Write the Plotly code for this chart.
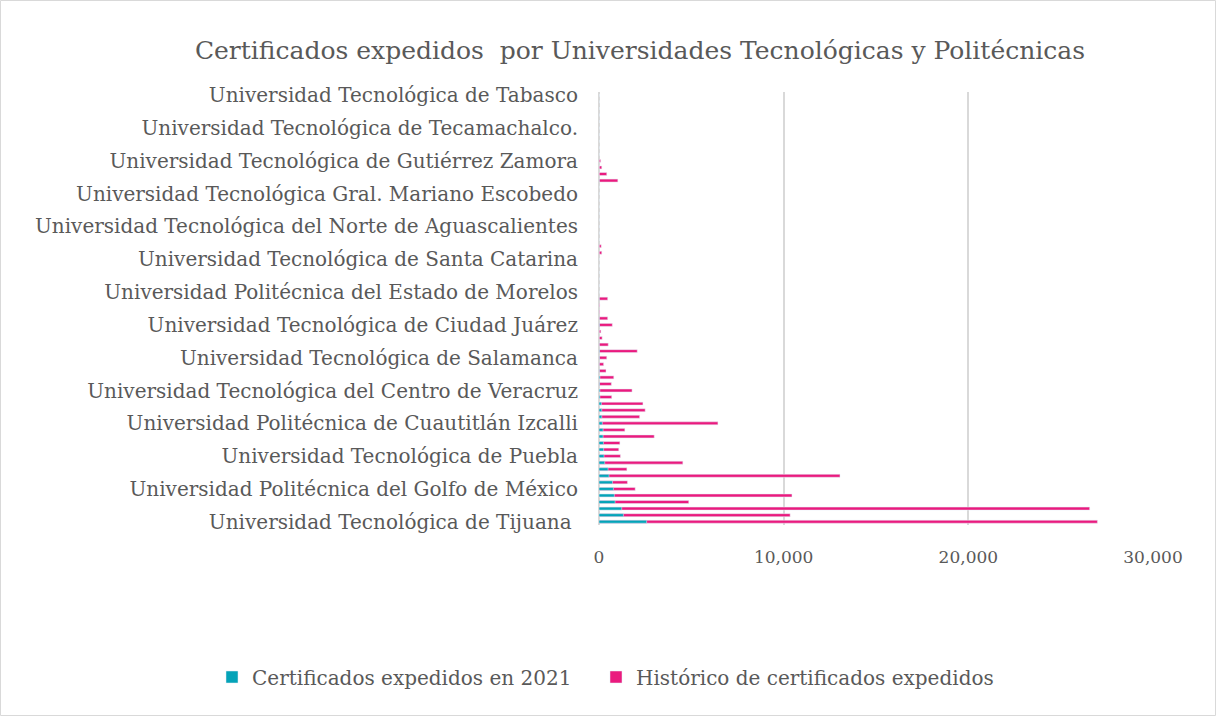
import plotly.graph_objects as go

# Categories from bottom (index 0) to top (index 65); only every 5th label is displayed
universidades = [
    "Universidad Tecnológica de Tijuana\u00a0",
    "Universidad Tecnológica de Querétaro",
    "Universidad Politécnica de San Luis Potosí",
    "Universidad Tecnológica de León",
    "Universidad Tecnológica de Hermosillo",
    "Universidad Politécnica del Golfo de México",
    "Universidad Tecnológica de Aguascalientes",
    "Universidad Tecnológica de Coahuila",
    "Universidad Tecnológica de Jalisco",
    "Universidad Politécnica de Pachuca",
    "Universidad Tecnológica de Puebla",
    "Universidad Tecnológica de Tula-Tepeji",
    "Universidad Tecnológica de Nezahualcóyotl",
    "Universidad Tecnológica de Chihuahua",
    "Universidad Politécnica de Tulancingo",
    "Universidad Politécnica de Cuautitlán Izcalli",
    "Universidad Tecnológica de Cancún",
    "Universidad Tecnológica de San Juan del Río",
    "Universidad Tecnológica del Valle del Mezquital",
    "Universidad Politécnica de Aguascalientes",
    "Universidad Tecnológica del Centro de Veracruz",
    "Universidad Tecnológica de Tecámac",
    "Universidad Tecnológica de la Mixteca",
    "Universidad Tecnológica de Torreón",
    "Universidad Politécnica de Zacatecas",
    "Universidad Tecnológica de Salamanca",
    "Universidad Tecnológica de Durango",
    "Universidad Tecnológica de Campeche",
    "Universidad Tecnológica de Xicotepec de Juárez",
    "Universidad Politécnica de Sinaloa",
    "Universidad Tecnológica de Ciudad Juárez",
    "Universidad Tecnológica de Morelia",
    "Universidad Tecnológica de Izúcar de Matamoros",
    "Universidad Tecnológica de Nayarit",
    "Universidad Politécnica de Tlaxcala",
    "Universidad Politécnica del Estado de Morelos",
    "Universidad Tecnológica de Huejotzingo",
    "Universidad Tecnológica de Escuinapa",
    "Universidad Tecnológica de Tlaxcala",
    "Universidad Politécnica de Chiapas",
    "Universidad Tecnológica de Santa Catarina",
    "Universidad Tecnológica de Zacatecas",
    "Universidad Tecnológica de la Sierra Hidalguense",
    "Universidad Tecnológica de Manzanillo",
    "Universidad Politécnica de Quintana Roo",
    "Universidad Tecnológica del Norte de Aguascalientes",
    "Universidad Tecnológica de Parral",
    "Universidad Tecnológica de Candelaria",
    "Universidad Tecnológica de la Costa",
    "Universidad Politécnica de Durango",
    "Universidad Tecnológica Gral. Mariano Escobedo",
    "Universidad Tecnológica de Altamira",
    "Universidad Tecnológica de Matamoros",
    "Universidad Tecnológica de la Huasteca Hidalguense",
    "Universidad Politécnica de Victoria",
    "Universidad Tecnológica de Gutiérrez Zamora",
    "Universidad Tecnológica de Calvillo",
    "Universidad Tecnológica de Oriental",
    "Universidad Tecnológica de Chetumal",
    "Universidad Politécnica de Tapachula",
    "Universidad Tecnológica de Tecamachalco.",
    "Universidad Tecnológica de Zinacantepec",
    "Universidad Tecnológica de Tehuacán",
    "Universidad Tecnológica de Acapulco",
    "Universidad Politécnica de Atlacomulco",
    "Universidad Tecnológica de Tabasco",
]

certificados_2021 = [
    2580, 1320, 1230, 870, 830, 780, 730, 540, 490, 310,
    270, 250, 240, 220, 220, 180, 150, 150, 130, 50,
    50, 30, 50, 20, 10, 20, 30, 10, 0, 0,
    20, 10, 0, 0, 10, 0, 0, 0, 0, 0,
    0, 0, 0, 0, 0, 0, 0, 0, 0, 0,
    0, 0, 10, 0, 0, 0, 0, 0, 0, 0,
    0, 0, 0, 0, 0, 0,
]

historico = [
    26990, 10350, 26570, 4860, 10450, 1960, 1540, 13050, 1510, 4540,
    1160, 1070, 1130, 2990, 1400, 6440, 2200, 2500, 2380, 690,
    1790, 670, 800, 380, 250, 420, 2070, 500, 170, 100,
    720, 470, 40, 40, 470, 0, 0, 0, 0, 0,
    0, 150, 120, 0, 0, 0, 0, 0, 0, 0,
    0, 0, 1020, 420, 150, 90, 0, 0, 0, 0,
    0, 0, 0, 0, 0, 0,
]

etiquetas_visibles = universidades[::5]

TEAL = "#04A3B8"
PINK = "#EA1A7E"
GRAY = "#595959"
FONT = "DejaVu Serif"

fig = go.Figure()
fig.add_trace(go.Bar(
    y=universidades, x=historico, orientation="h",
    name="Histórico de certificados expedidos", marker_color=PINK,
    legend="legend2",
))
fig.add_trace(go.Bar(
    y=universidades, x=certificados_2021, orientation="h",
    name="Certificados expedidos en 2021", marker_color=TEAL,
    legend="legend",
))

legend_common = dict(
    orientation="h", xref="paper", xanchor="left",
    yref="paper", y=(525 - 677) / 433, yanchor="middle",
    font=dict(size=20, color=GRAY), itemwidth=30,
    bgcolor="rgba(0,0,0,0)",
)

fig.update_layout(
    width=1216, height=716,
    barmode="overlay", bargap=0.55,
    paper_bgcolor="white", plot_bgcolor="white",
    margin=dict(l=599, r=63, t=92, b=191),
    font=dict(family=FONT, color=GRAY, size=20),
    title=dict(
        text="Certificados expedidos  por Universidades Tecnológicas y Politécnicas",
        x=640 / 1216, xanchor="center", xref="container",
        y=1 - 50 / 716, yanchor="middle", yref="container",
        font=dict(family=FONT, size=25, color=GRAY),
    ),
    xaxis=dict(
        range=[0, 30000], dtick=10000, tickformat=",",
        showgrid=True, gridcolor="#D9D9D9", gridwidth=2,
        zeroline=True, zerolinecolor="#D9D9D9", zerolinewidth=2,
        showline=False, ticks="", tickfont=dict(size=17, color=GRAY),
        ticklabelstandoff=20,
    ),
    yaxis=dict(
        type="category", categoryorder="array", categoryarray=universidades,
        tickmode="array", tickvals=etiquetas_visibles, ticktext=etiquetas_visibles,
        ticks="", showgrid=False, tickfont=dict(size=20, color=GRAY),
        ticklabelstandoff=20, range=[-0.5, len(universidades) - 0.5],
    ),
    legend=dict(x=(212 - 599) / 554, **legend_common),
    legend2=dict(x=(596 - 599) / 554, **legend_common),
    showlegend=True,
    shapes=[dict(
        type="rect", xref="paper", yref="paper",
        x0=(0.5 - 599) / 554, x1=(1215.5 - 599) / 554,
        y0=(525 - 715.5) / 433, y1=(525 - 0.5) / 433,
        line=dict(color="#D9D9D9", width=1), layer="below",
    )],
)

fig.write_html(
    "out.html",
    config={"displayModeBar": False},
    post_script="document.body.style.margin='0';",
)
